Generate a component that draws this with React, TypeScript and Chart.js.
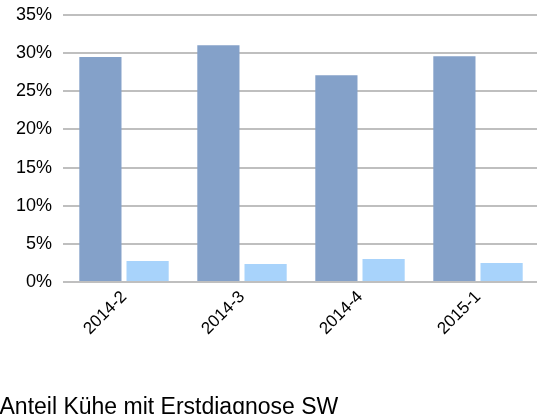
import React, { useEffect, useRef } from "react";
import { Chart, registerables } from "chart.js";

Chart.register(...registerables);

const categories = ["2014-2", "2014-3", "2014-4", "2015-1"];
const seriesNames = ["Anteil Kühe mit Erstdiagnose SW", "Anteil Kühe (2)"];
const seriesA = [29.5, 31.05, 27.1, 29.6];
const seriesB = [2.75, 2.35, 3.0, 2.5];
const yTicks = [0, 5, 10, 15, 20, 25, 30, 35];

const FONT = "'Liberation Sans', Arial, Helvetica, sans-serif";

export default function App() {
  const ref = useRef<HTMLCanvasElement | null>(null);
  useEffect(() => {
    if (!ref.current) return;
    const chart = new Chart(ref.current, {
      type: "bar",
      data: {
        labels: categories,
        datasets: [
          {
            label: seriesNames[0],
            data: seriesA,
            backgroundColor: "#84A1C9",
            categoryPercentage: 0.8,
            barPercentage: 0.894,
          },
          {
            label: seriesNames[1],
            data: seriesB,
            backgroundColor: "#A8D3FB",
            categoryPercentage: 0.8,
            barPercentage: 0.894,
          },
        ],
      },
      options: {
        animation: false,
        responsive: true,
        maintainAspectRatio: false,
        layout: { padding: { top: 15, left: 0, right: 6, bottom: 0 } },
        plugins: {
          legend: {
            display: true,
            position: "bottom",
            align: "start",
            labels: {
              filter: (item: any) => item.datasetIndex === 0,
              boxWidth: 40,
              padding: 10,
              color: "#000",
              font: { family: FONT, size: 23 },
            },
          },
          tooltip: { enabled: false },
        },
        scales: {
          x: {
            grid: { display: false, drawTicks: false },
            border: { display: false },
            ticks: {
              color: "#000",
              font: { family: FONT, size: 17 },
              minRotation: 45,
              maxRotation: 45,
              padding: 5,
            },
            afterFit: (s: any) => {
              s.height = 104;
            },
          },
          y: {
            min: 0,
            max: 35,
            afterBuildTicks: (s: any) => {
              s.ticks = yTicks.map((v) => ({ value: v }));
            },
            grid: {
              color: "#bfbfbf",
              lineWidth: 2,
              drawTicks: true,
              tickLength: 2,
            },
            border: { display: false },
            ticks: {
              color: "#000",
              font: { family: FONT, size: 18 },
              padding: 11,
              callback: (v: any) => v + "%",
            },
            afterFit: (s: any) => {
              s.width = 127;
              s.paddingTop = 0;
              s.paddingBottom = 0;
            },
          },
        },
      },
    });
    return () => chart.destroy();
  }, []);

  return (
    <div
      style={{
        position: "fixed",
        left: 0,
        top: 0,
        width: 543,
        height: 414,
        overflow: "hidden",
        background: "#fff",
      }}
    >
      <div
        style={{
          position: "absolute",
          left: -62,
          top: 0,
          width: 605,
          height: 429,
        }}
      >
        <canvas ref={ref} />
      </div>
    </div>
  );
}
